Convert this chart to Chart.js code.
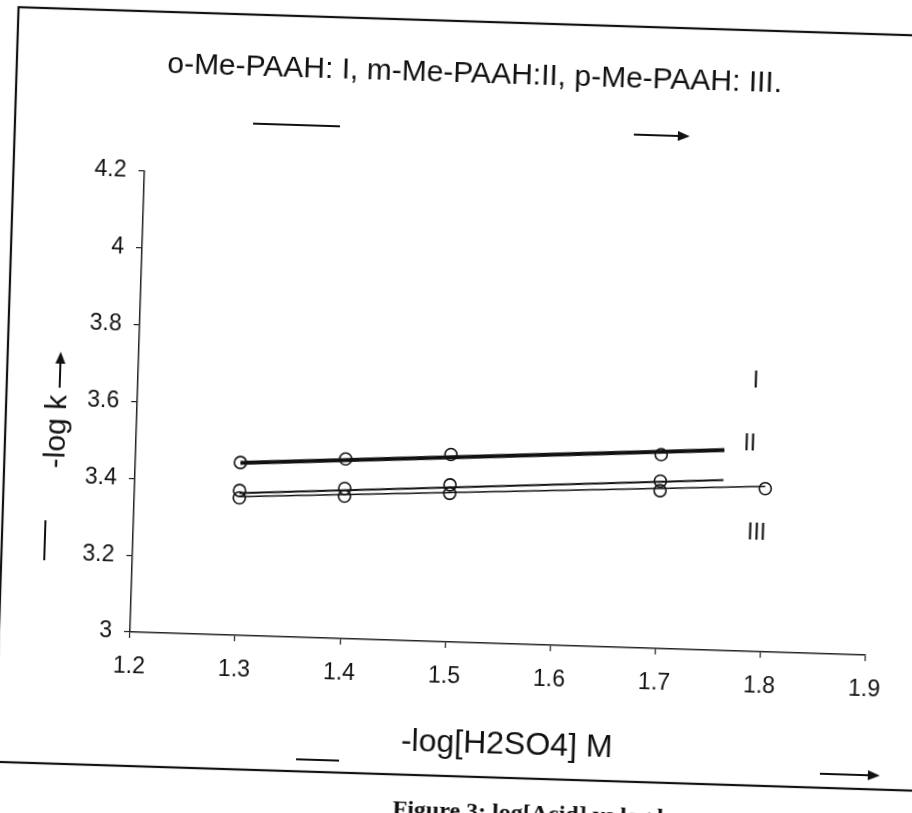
<!DOCTYPE html>
<html>
<head>
<meta charset="utf-8">
<script src="https://cdn.jsdelivr.net/npm/chart.js@4.4.1/dist/chart.umd.min.js"></script>
<style>
  html, body { margin: 0; padding: 0; background: #fff; overflow: hidden; width: 912px; height: 813px; }
  #wrap {
    position: absolute; left: -30px; top: -30px; width: 980px; height: 880px;
    transform: rotate(1.8deg); transform-origin: 160px 662px;
  }
</style>
</head>
<body>
<div id="wrap"><canvas id="rateChart" width="980" height="880"></canvas></div>
<script>
// -log k against -log[H2SO4] for the three Me-PAAH isomers

const xVals = [1.3, 1.4, 1.5, 1.7];
const xValsIII = [1.3, 1.4, 1.5, 1.7, 1.8];
const seriesI = [3.377, 3.391, 3.409, 3.436];
const seriesII = [3.450, 3.468, 3.488, 3.505];
const seriesIII = [3.358, 3.371, 3.387, 3.411, 3.425];

// fitted lines, end points
const trendX = [1.3, 1.76];
const trendXIII = [1.3, 1.8];
const trendI = [3.370, 3.444];
const trendII = [3.449, 3.522];
const trendIII = [3.361, 3.431];

const seriesNames = ['I', 'II', 'III'];

const FONT = 'Liberation Sans, Arial, sans-serif';
const OFF = 30; // canvas is shifted by this much so the rotated frame fits

function pts(xs, ys) {
    return xs.map((x, i) => ({ x: x, y: ys[i] }));
}

function lineSet(xs, ys, w) {
    return {
        data: pts(xs, ys), showLine: true, pointRadius: 0,
        borderColor: '#111', borderWidth: w, fill: false
    };
}

function markSet(xs, ys) {
    return {
        data: pts(xs, ys), showLine: false, pointRadius: 6,
        pointStyle: 'circle', borderColor: '#111', borderWidth: 1.6,
        backgroundColor: 'rgba(0,0,0,0)'
    };
}

function arrow(ctx, x1, y1, x2, y2) {
    const a = Math.atan2(y2 - y1, x2 - x1);
    ctx.beginPath();
    ctx.moveTo(x1, y1);
    ctx.lineTo(x2 - 8 * Math.cos(a), y2 - 8 * Math.sin(a));
    ctx.stroke();
    ctx.beginPath();
    ctx.moveTo(x2, y2);
    ctx.lineTo(x2 - 12 * Math.cos(a) + 5 * Math.sin(a), y2 - 12 * Math.sin(a) - 5 * Math.cos(a));
    ctx.lineTo(x2 - 12 * Math.cos(a) - 5 * Math.sin(a), y2 - 12 * Math.sin(a) + 5 * Math.cos(a));
    ctx.closePath();
    ctx.fill();
}

// title, axis captions, series labels, frame
const decorations = {
    id: 'decorations',
    afterDraw(chart) {
        const ctx = chart.ctx;
        const xs = chart.scales.x, ys = chart.scales.y;
        ctx.save();
        ctx.fillStyle = '#111';
        ctx.strokeStyle = '#111';

        // frame
        ctx.lineWidth = 2.2;
        ctx.strokeRect(OFF - 1, OFF + 11, 1000, 755);

        ctx.textAlign = 'center';
        ctx.textBaseline = 'middle';
        ctx.font = '30px ' + FONT;
        ctx.fillText('o-Me-PAAH: I, m-Me-PAAH:II, p-Me-PAAH: III.', OFF + 457, OFF + 64);

        ctx.lineWidth = 2;
        ctx.beginPath();
        ctx.moveTo(OFF + 237, OFF + 120);
        ctx.lineTo(OFF + 324, OFF + 120);
        ctx.stroke();
        arrow(ctx, OFF + 618, OFF + 119, OFF + 674, OFF + 119);

        // y axis caption
        ctx.save();
        ctx.translate(OFF + 51, OFF + 434);
        ctx.rotate(-Math.PI / 2);
        ctx.font = '30px ' + FONT;
        ctx.fillText('-log k', 0, 0);
        ctx.restore();
        arrow(ctx, OFF + 52, OFF + 390, OFF + 52, OFF + 354);
        ctx.beginPath();
        ctx.moveTo(OFF + 42, OFF + 523);
        ctx.lineTo(OFF + 42, OFF + 563);
        ctx.stroke();

        // x axis caption
        ctx.font = '32px ' + FONT;
        ctx.fillText('-log[H2SO4] M', OFF + 510, OFF + 733);
        ctx.beginPath();
        ctx.moveTo(OFF + 300, OFF + 754);
        ctx.lineTo(OFF + 343, OFF + 754);
        ctx.stroke();
        arrow(ctx, OFF + 824, OFF + 752, OFF + 884, OFF + 752);

        // series labels
        ctx.font = '23px ' + FONT;
        const labelPos = [[1.788, 3.703], [1.784, 3.541], [1.793, 3.308]];
        seriesNames.forEach((n, i) => {
            ctx.fillText(n, xs.getPixelForValue(labelPos[i][0]), ys.getPixelForValue(labelPos[i][1]));
        });

        // figure caption, mostly cut off at the page edge
        ctx.textAlign = 'left';
        ctx.textBaseline = 'top';
        ctx.font = 'bold 24px Liberation Serif, Times New Roman, serif';
        ctx.fillText('Figure 3: log[Acid] vs log k', OFF + 398, OFF + 790);
        ctx.restore();
    }
};

const ctx = document.getElementById('rateChart').getContext('2d');

new Chart(ctx, {
    type: 'scatter',
    data: {
        datasets: [
            lineSet(trendX, trendII, 4),
            lineSet(trendX, trendI, 2),
            lineSet(trendXIII, trendIII, 1.6),
            markSet(xVals, seriesII),
            markSet(xVals, seriesI),
            markSet(xValsIII, seriesIII)
        ]
    },
    options: {
        responsive: false,
        animation: false,
        layout: { padding: { left: 0, top: OFF + 171, right: 84.5, bottom: 0 } },
        plugins: {
            legend: { display: false },
            tooltip: { enabled: false }
        },
        scales: {
            x: {
                type: 'linear', min: 1.2, max: 1.9,
                afterFit: (s) => { s.height = 218; },
                border: { display: true, color: '#222', width: 1.5 },
                grid: { drawOnChartArea: false, drawTicks: true, tickLength: 6, color: '#222', lineWidth: 1.2 },
                ticks: {
                    stepSize: 0.1, padding: 15, color: '#111',
                    font: { family: FONT, size: 23 },
                    callback: (v) => v.toFixed(1)
                }
            },
            y: {
                type: 'linear', min: 3, max: 4.2,
                afterFit: (s) => { s.width = OFF + 130; },
                border: { display: true, color: '#222', width: 1.5 },
                grid: { drawOnChartArea: false, drawTicks: true, tickLength: 6, color: '#222', lineWidth: 1.2 },
                ticks: {
                    stepSize: 0.2, padding: 12, color: '#111',
                    font: { family: FONT, size: 23 },
                    callback: (v) => String(Number(v.toFixed(1)))
                }
            }
        }
    },
    plugins: [decorations]
});
</script>
</body>
</html>
